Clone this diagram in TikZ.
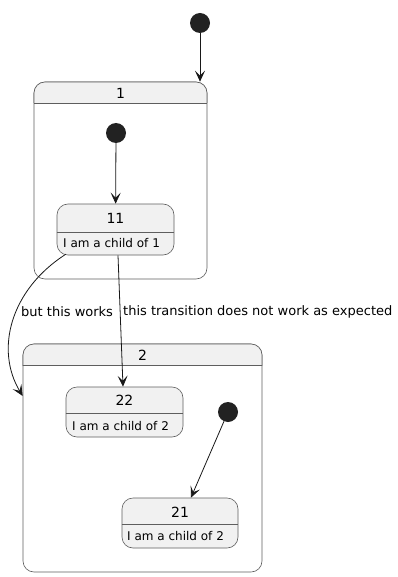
\documentclass[tikz,border=0pt]{standalone}
\usepackage{fontspec}
\setmainfont{DejaVu Sans}
\usetikzlibrary{arrows.meta}
\definecolor{sfill}{HTML}{F1F1F1}
\definecolor{sline}{HTML}{5E5E5E}
\definecolor{ink}{HTML}{181818}
\definecolor{dot}{HTML}{222222}
\tikzset{
  sbox/.style={draw=sline, fill=sfill, line width=0.6pt, rounded corners=11pt, inner sep=0pt},
  cbox/.style={draw=sline, fill=white, line width=0.6pt, rounded corners=11pt, inner sep=0pt},
  divider/.style={draw=sline, line width=0.6pt},
  initdot/.style={circle, fill=dot, minimum size=20pt, inner sep=0pt},
  arr/.style={draw=ink, line width=0.8pt, -{Stealth[length=11pt, width=10pt, inset=5pt]}},
  title/.style={font=\fontsize{14pt}{16pt}\selectfont, text=black, inner sep=0pt},
  desc/.style={font=\fontsize{12pt}{14pt}\selectfont, text=black, inner sep=0pt, anchor=west},
  elabel/.style={font=\fontsize{13pt}{15pt}\selectfont, text=black, inner sep=0pt, anchor=west},
}
\begin{document}
\begin{tikzpicture}[x=1pt, y=-1pt]
\useasboundingbox (0,0) rectangle (398,577);
% top initial
\node[initdot] (i0) at (200,23) {};
% composite 1
\node[cbox, minimum width=173pt, minimum height=197pt] (c1) at (120.5,180.5) {};
\begin{scope}
\clip (c1.north west) rectangle (c1.east |- 0,103);
\node[sbox, minimum width=173pt, minimum height=197pt] at (c1) {};
\end{scope}
\draw[divider] (c1.west |- 0,103) -- (c1.east |- 0,103);
\node[title] (t1) at (120.5,93) {1};
\node[initdot] (i1) at (116,133) {};
% state 11
\node[sbox, minimum width=117pt, minimum height=51pt] (s11) at (115.5,229.5) {};
\draw[divider] (s11.west |- 0,232) -- (s11.east |- 0,232);
\node[title] (t11) at (115.5,218) {11};
\node[desc] (d11) at (63,243) {I am a child of 1};
% composite 2
\node[cbox, minimum width=239pt, minimum height=228pt] (c2) at (142.5,458) {};
\begin{scope}
\clip (c2.north west) rectangle (c2.east |- 0,365);
\node[sbox, minimum width=239pt, minimum height=228pt] at (c2) {};
\end{scope}
\draw[divider] (c2.west |- 0,365) -- (c2.east |- 0,365);
\node[title] (t2) at (142.5,355) {2};
% state 22
\node[sbox, minimum width=117pt, minimum height=50pt] (s22) at (124.5,412) {};
\draw[divider] (s22.west |- 0,413) -- (s22.east |- 0,413);
\node[title] (t22) at (124.5,400) {22};
\node[desc] (d22) at (72,426) {I am a child of 2};
% initial in 2
\node[initdot] (i2) at (228,412) {};
% state 21
\node[sbox, minimum width=116pt, minimum height=50pt] (s21) at (180,523) {};
\draw[divider] (s21.west |- 0,524) -- (s21.east |- 0,524);
\node[title] (t21) at (180,512) {21};
\node[desc] (d21) at (127,536) {I am a child of 2};
% edges
\draw[arr] (i0) -- (i0 |- c1.north);
\draw[arr] (i1) -- (s11);
\draw[arr] ([xshift=2.5pt]s11.south) -- ([xshift=-1.5pt]s22.north);
\draw[arr] ([xshift=9pt,yshift=1pt]s11.south west) .. controls (10,290) and (-5,350) .. (c2.west |- 0,396);
\draw[arr] (i2) -- (s21);
\node[elabel] (l1) at (21,312) {but this works};
\node[elabel] (l2) at (123,312) {this transition does not work as expected};
\end{tikzpicture}
\end{document}
